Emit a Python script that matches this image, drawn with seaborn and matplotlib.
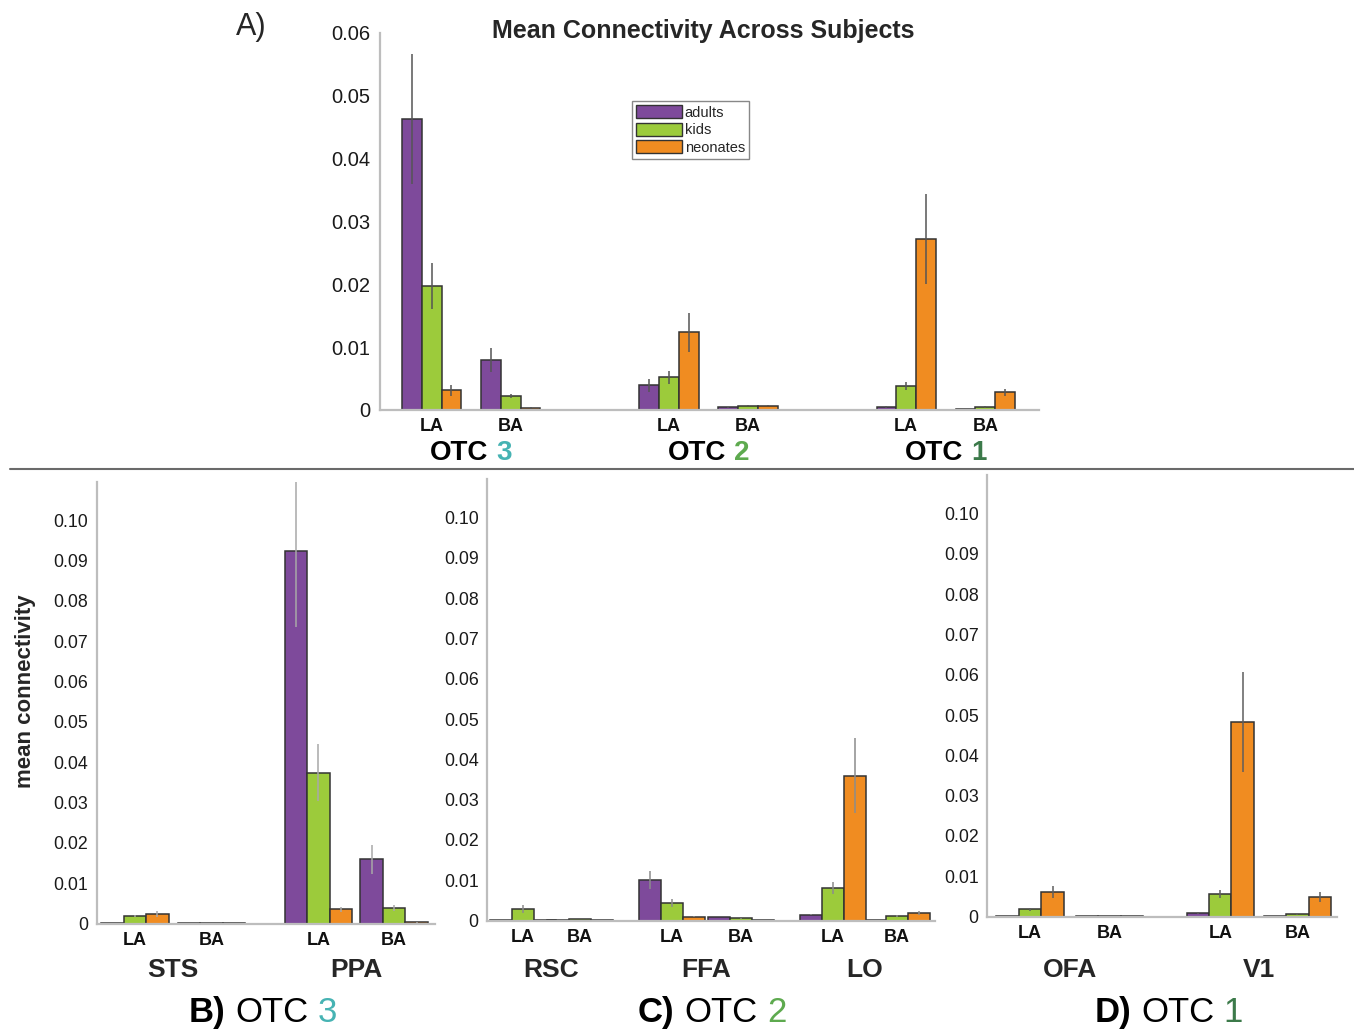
import numpy as np
import pandas as pd
import matplotlib
matplotlib.use('Agg')
import matplotlib.pyplot as plt
from matplotlib.patches import Patch
from matplotlib.lines import Line2D
import seaborn as sns

# ── Data ──────────────────────────────────────────────────────────────────────
groups = ['adults', 'kids', 'neonates']
sub_labels = ['LA', 'BA']

# A) whole OTC clusters: order OTC3 LA, OTC3 BA, OTC2 LA, OTC2 BA, OTC1 LA, OTC1 BA
a_regions = ['3', '2', '1']
a_adults = [0.0463, 0.0079, 0.0039, 0.0004, 0.0005, 0.0001]
a_kids = [0.0197, 0.0022, 0.0052, 0.0007, 0.0038, 0.0005]
a_neo = [0.0031, 0.0003, 0.0124, 0.0007, 0.0272, 0.0028]
a_adults_err = [0.0104, 0.0019, 0.0010, 0.0001, 0.0002, 0.0000]
a_kids_err = [0.0037, 0.0003, 0.0010, 0.0001, 0.0006, 0.0002]
a_neo_err = [0.0008, 0.0001, 0.0031, 0.0001, 0.0071, 0.0006]

# B) OTC 3: STS, PPA
b_regions = ['STS', 'PPA']
b_adults = [0.0002, 0.0001, 0.0925, 0.0159]
b_kids = [0.0018, 0.0002, 0.0374, 0.0038]
b_neo = [0.0023, 0.0001, 0.0035, 0.0003]
b_adults_err = [0.0000, 0.0000, 0.0190, 0.0035]
b_kids_err = [0.0002, 0.0000, 0.0071, 0.0007]
b_neo_err = [0.0008, 0.0000, 0.0006, 0.0001]

# C) OTC 2: RSC, FFA, LO
c_regions = ['RSC', 'FFA', 'LO']
c_adults = [0.0001, 0.0001, 0.0100, 0.0009, 0.0015, 0.0001]
c_kids = [0.0029, 0.0004, 0.0044, 0.0006, 0.0081, 0.0011]
c_neo = [0.0001, 0.0001, 0.0010, 0.0001, 0.0359, 0.0018]
c_adults_err = [0.0000, 0.0000, 0.0022, 0.0001, 0.0002, 0.0000]
c_kids_err = [0.0009, 0.0001, 0.0009, 0.0001, 0.0015, 0.0002]
c_neo_err = [0.0000, 0.0000, 0.0002, 0.0000, 0.0093, 0.0005]

# D) OTC 1: OFA, V1
d_regions = ['OFA', 'V1']
d_adults = [0.0001, 0.0001, 0.0009, 0.0001]
d_kids = [0.0018, 0.0001, 0.0056, 0.0006]
d_neo = [0.0060, 0.0001, 0.0482, 0.0049]
d_adults_err = [0.0000, 0.0000, 0.0002, 0.0000]
d_kids_err = [0.0004, 0.0000, 0.0010, 0.0001]
d_neo_err = [0.0015, 0.0000, 0.0124, 0.0013]

# ── Style ─────────────────────────────────────────────────────────────────────
palette = {'adults': '#7E4A9B', 'kids': '#9CCB3B', 'neonates': '#F08C21'}
otc_colors = {'3': '#46B3B3', '2': '#5EAA4F', '1': '#3C7A4A'}

sns.set_style('white')
plt.rcParams['font.family'] = ['Liberation Sans', 'DejaVu Sans']

fig = plt.figure(figsize=(13.54, 10.29), dpi=100)


def frame(adults, kids, neo, errs, pos):
    rows = []
    for g, vals, err in zip(groups, (adults, kids, neo), errs):
        for p, v, e in zip(pos, vals, err):
            rows.append({'pos': p, 'group': g, 'value': v, 'err': e})
    return pd.DataFrame(rows)


def draw_panel(rect, df, pos, group_w, xlim, ylim, yticks, tick_fs, err_color):
    ax = fig.add_axes(rect)
    min_step = np.min(np.diff(pos))
    sns.barplot(data=df, x='pos', y='value', hue='group', hue_order=groups,
                palette=palette, native_scale=True, width=group_w / min_step,
                saturation=1, edgecolor='#333333', linewidth=1.1,
                errorbar=None, legend=False, ax=ax)
    # error bars at the dodged bar centres
    step = group_w / len(groups)
    for i, g in enumerate(groups):
        sub = df[df['group'] == g]
        xs = sub['pos'].to_numpy() + (i - 1) * step
        ax.errorbar(xs, sub['value'], yerr=sub['err'], fmt='none',
                    ecolor=err_color, elinewidth=1.1, capsize=0, zorder=5)
    ax.set_xlim(*xlim)
    ax.set_ylim(*ylim)
    ax.set_yticks(yticks)
    ax.set_yticklabels(['0'] + [f'{t:.2f}' for t in yticks[1:]], fontsize=tick_fs)
    ax.set_xticks(pos)
    ax.set_xticklabels(sub_labels * (len(pos) // 2), fontsize=13, fontweight='bold')
    ax.set_xlabel('')
    ax.set_ylabel('')
    for s in ['top', 'right']:
        ax.spines[s].set_visible(False)
    for s in ['left', 'bottom']:
        ax.spines[s].set_color('#BDBDBD')
        ax.spines[s].set_linewidth(1.6)
    ax.tick_params(axis='y', direction='out', length=4, width=1, color='#9A9A9A',
                   pad=2, labelcolor='#1a1a1a')
    ax.tick_params(axis='x', direction='out', length=3, width=1, color='#9A9A9A',
                   pad=3, labelcolor='#111111')
    return ax


def multi_text(xc, y, parts, size):
    """Draw parts [(text, color, weight), ...] side by side, centred at xc."""
    r = fig.canvas.get_renderer()
    W = fig.bbox.width
    probe = fig.text(0, 0, 'M M', fontsize=size)
    probe2 = fig.text(0, 0, 'MM', fontsize=size)
    gap = (probe.get_window_extent(r).width - probe2.get_window_extent(r).width) / W
    probe.remove()
    probe2.remove()
    texts, widths = [], []
    for txt, col, wt in parts:
        t = fig.text(0, y, txt, color=col, fontweight=wt, fontsize=size,
                     ha='left', va='baseline')
        texts.append(t)
        widths.append(t.get_window_extent(r).width / W)
    total = sum(widths) + gap * (len(parts) - 1)
    x = xc - total / 2
    for t, w in zip(texts, widths):
        t.set_x(x)
        x += w + gap


def data_to_fig_x(ax, xd):
    return fig.transFigure.inverted().transform(ax.transData.transform((xd, 0)))[0]


# ── A) Mean connectivity across subjects ──────────────────────────────────────
a_pos = [0, 1, 3, 4, 6, 7]
df_a = frame(a_adults, a_kids, a_neo, (a_adults_err, a_kids_err, a_neo_err), a_pos)
ax_a = draw_panel([0.2807, 0.6016, 0.4867, 0.3664], df_a, a_pos, 0.75,
                  (-0.652, 7.68), (0, 0.06), np.arange(0, 0.061, 0.01), 14.5, '#555555')
ax_a.tick_params(axis='y', length=5)
handles = [Patch(facecolor=palette[g], edgecolor='#333333', linewidth=1, label=g)
           for g in groups]
ax_a.legend(handles=handles, loc='upper left', bbox_to_anchor=(0.3824, 0.8196),
            borderaxespad=0, fontsize=10.5, frameon=True, fancybox=False,
            edgecolor='#888888', framealpha=1, handlelength=3.1, handleheight=1.0,
            handletextpad=0.2, labelspacing=0.2, borderpad=0.3)
ax_a.legend_.get_frame().set_linewidth(1.0)

fig.text(703 / 1354, 1 - 38 / 1029, 'Mean Connectivity Across Subjects',
         ha='center', va='baseline', fontsize=18, fontweight='bold')
fig.text(251 / 1354, 1 - 35 / 1029, 'A)', ha='center', va='baseline', fontsize=22)

fig.canvas.draw()
for k, digit in enumerate(a_regions):
    xc = data_to_fig_x(ax_a, (a_pos[2 * k] + a_pos[2 * k + 1]) / 2)
    multi_text(xc, 1 - 460 / 1029,
               [('OTC', 'black', 'bold'), (digit, otc_colors[digit], 'bold')], 20)

# separator between top and bottom rows
fig.add_artist(Line2D([10 / 1354, 1.0], [1 - 469 / 1029] * 2,
                      transform=fig.transFigure, color='#6a6a6a', linewidth=1.5))

# ── B, C, D) region breakdowns ────────────────────────────────────────────────
bottom_ticks = np.arange(0, 0.101, 0.01)
panels = [
    ('B)', '3', b_regions, [0, 1, 2.39, 3.38], 0.88, (-0.499, 3.912),
     [0.0714, 0.1025, 0.2499, 0.4291], 263,
     (b_adults, b_kids, b_neo), (b_adults_err, b_kids_err, b_neo_err), '#A8A8A8'),
    ('C)', '2', c_regions, [0, 0.85, 2.22, 3.25, 4.63, 5.58], 0.985, (-0.537, 6.15),
     [0.3597, 0.1053, 0.3309, 0.4291], 712,
     (c_adults, c_kids, c_neo), (c_adults_err, c_kids_err, c_neo_err), '#8C8C8C'),
    ('D)', '1', d_regions, [0, 1.03, 2.47, 3.47], 0.876, (-0.558, 3.987),
     [0.7290, 0.1092, 0.2585, 0.4291], 1169,
     (d_adults, d_kids, d_neo), (d_adults_err, d_kids_err, d_neo_err), '#5E5E5E'),
]

axes = []
for letter, digit, regions, pos, gw, xlim, rect, xc_px, vals, errs, ecol in panels:
    df = frame(*vals, errs, pos)
    ax = draw_panel(rect, df, pos, gw, xlim, (0, 0.1095), bottom_ticks, 12.8, ecol)
    axes.append((ax, letter, digit, regions, pos, xc_px))

axes[0][0].set_ylabel('mean connectivity', fontsize=16, fontweight='bold')
axes[0][0].yaxis.set_label_coords(-0.18, 0.527)

fig.canvas.draw()
for ax, letter, digit, regions, pos, xc_px in axes:
    for k, name in enumerate(regions):
        xc = data_to_fig_x(ax, (pos[2 * k] + pos[2 * k + 1]) / 2)
        fig.text(xc, 1 - 977 / 1029, name, ha='center', va='baseline',
                 fontsize=19, fontweight='bold')
    multi_text(xc_px / 1354, 1 - 1022 / 1029,
               [(letter, 'black', 'bold'), ('OTC', 'black', 'normal'),
                (digit, otc_colors[digit], 'normal')], 25)

fig.savefig('out.png', dpi=100)
